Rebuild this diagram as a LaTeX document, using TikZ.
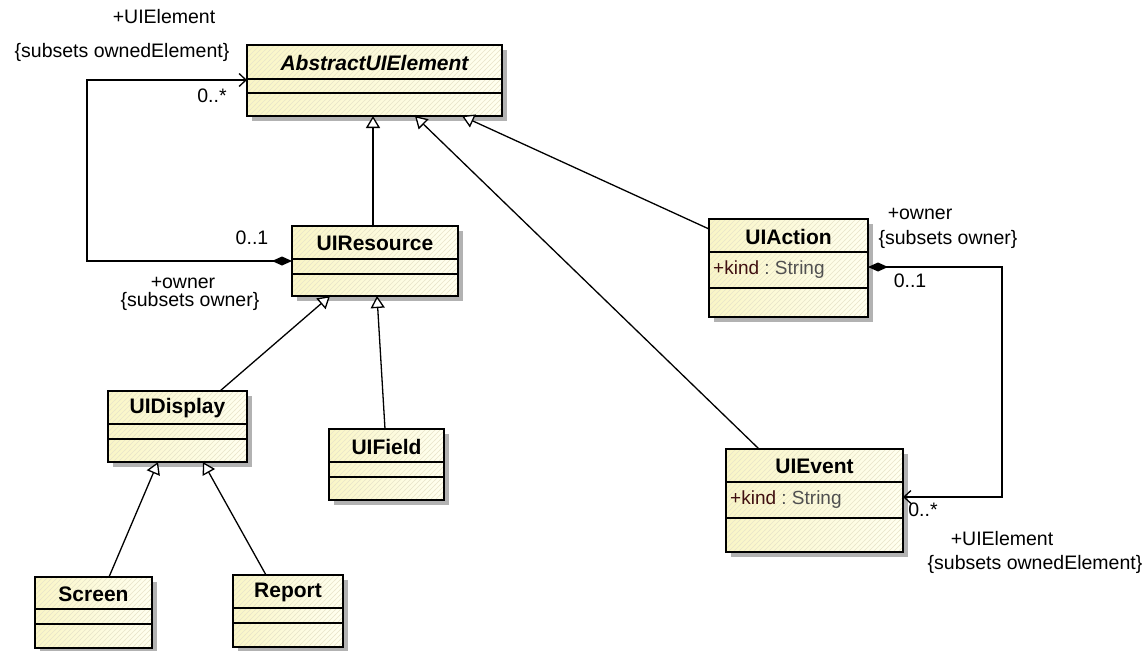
\documentclass[tikz,border=0pt]{standalone}
\usepackage{fontspec}
\setmainfont{Liberation Sans}
\usetikzlibrary{arrows.meta,patterns.meta,calc}

\definecolor{shadowc}{RGB}{178,178,178}
\definecolor{fillL}{RGB}{250,246,198}
\definecolor{fillR}{RGB}{255,255,240}
\definecolor{hatchc}{RGB}{232,228,202}
\definecolor{attrc}{RGB}{64,16,16}
\definecolor{typec}{RGB}{80,80,80}

\tikzdeclarepattern{
  name=uihatch,
  type=uncolored,
  bottom left={(-.5pt,-.5pt)},
  top right={(5.5pt,5.5pt)},
  tile size={(5pt,5pt)},
  code={\draw[line width=0.6pt] (-.5pt,-.5pt) -- (5.5pt,5.5pt);}
}

\tikzset{
  classbox/.style={draw, line width=1.5pt, inner sep=0pt, outer sep=0pt, rectangle},
  classline/.style={line width=1.3pt},
  classtitle/.style={inner sep=0pt, font=\fontsize{21}{24}\selectfont\bfseries},
  attr/.style={inner sep=0pt, font=\fontsize{19}{22}\selectfont},
  lbl/.style={inner sep=0pt, text height=12.5pt, text depth=3pt, font=\fontsize{19.5}{22}\selectfont},
  gen/.style={line width=1.3pt, -{Triangle[open,fill=white,length=12pt,width=14pt]}},
  comp/.style={line width=1.3pt, {Diamond[length=20pt,width=9pt]}-{Straight Barb[length=7pt,width=13pt]}}
}

\newcommand\umlclass[9]{%
  \fill[shadowc] (#2+5,#3+5) rectangle (#4+5,#5+5);
  \shade[left color=fillL,right color=fillR] (#2,#3) rectangle (#4,#5);
  \fill[pattern=uihatch,pattern color=hatchc] (#2,#3) rectangle (#4,#5);
  \node[classbox,minimum width={#4-#2},minimum height={#5-#3},anchor=north west] (#1) at (#2,#3) {};
  \draw[classline] (#2,#6) -- (#4,#6) (#2,#7) -- (#4,#7);
  \node[classtitle] at ({(#2+#4)/2},{(#3+#6)/2+1}) {#8};
  \node[attr,anchor=west] at (#2+4,{(#6+#7)/2}) {#9};
}

\begin{document}
\begin{tikzpicture}[x=1pt,y=-1pt]
\useasboundingbox (0,0) rectangle (1147,650);

\umlclass{abs}{247}{45}{502}{116}{79}{93}{\itshape AbstractUIElement}{}
\umlclass{uires}{292}{226}{458}{296}{259}{274}{UIResource}{}
\umlclass{uiact}{709}{219}{868}{317}{252}{288}{UIAction}{\textcolor{attrc}{+kind}\textcolor{typec}{\ :\ String}}
\umlclass{uievt}{726}{449}{903}{552}{482}{518}{UIEvent}{\textcolor{attrc}{+kind}\textcolor{typec}{\ :\ String}}
\umlclass{uidisp}{108}{391}{247}{462}{424}{439}{UIDisplay}{}
\umlclass{uifield}{329}{429}{444}{500}{462}{477}{UIField}{}
\umlclass{screen}{35}{577}{152}{648}{609}{624}{Screen}{}
\umlclass{report}{233}{575}{343}{647}{608}{623}{Report}{}

% generalizations
\draw[gen] ([xshift=-2pt]uires.north) -- ([xshift=-1.5pt]abs.south);
\draw[gen] ([xshift=33pt]uievt.north west) -- ([xshift=168pt]abs.south west);
\draw[gen] ([yshift=-10pt]uiact.north west) -- ([xshift=215pt]abs.south west);
\draw[gen] ([xshift=112pt]uidisp.north west) -- ([xshift=38pt]uires.south west);
\draw[gen] ([xshift=56pt]uifield.north west) -- ([xshift=85pt]uires.south west);
\draw[gen] ([xshift=74pt]screen.north west) -- ([xshift=50pt]uidisp.south west);
\draw[gen] ([xshift=33pt]report.north west) -- ([xshift=95pt]uidisp.south west);

% compositions
\coordinate (l1) at (87,261);
\coordinate (l2) at (87,80);
\draw[comp] ([yshift=-35pt]uires.north west) -- (l1) -- (l2) -- ([yshift=-35pt]abs.north west);
\coordinate (r1) at (1002,267);
\coordinate (r2) at (1002,497);
\draw[comp] ([yshift=-48pt]uiact.north east) -- (r1) -- (r2) -- ([yshift=-48pt]uievt.north east);

% labels
\node[lbl] (t1) at (164,19) {+UIElement};
\node[lbl] (t2) at (122,53) {\{subsets ownedElement\}};
\node[lbl] (t3) at (212,98) {0..*};
\node[lbl] (t4) at (252,240) {0..1};
\node[lbl] (t5) at (183,284) {+owner};
\node[lbl] (t6) at (190,302) {\{subsets owner\}};
\node[lbl] (t7) at (920,215) {+owner};
\node[lbl] (t8) at (948,240) {\{subsets owner\}};
\node[lbl] (t9) at (910,283) {0..1};
\node[lbl] (t10) at (923,512) {0..*};
\node[lbl] (t11) at (1002,541) {+UIElement};
\node[lbl] (t12) at (1035,565) {\{subsets ownedElement\}};
\end{tikzpicture}
\end{document}
